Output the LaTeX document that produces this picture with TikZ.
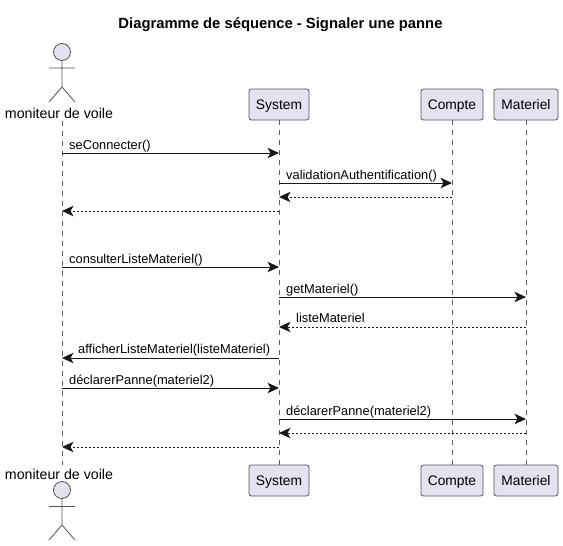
\documentclass[tikz,border=0pt]{standalone}
\usepackage{fontspec}
\setmainfont{Liberation Sans}
\usetikzlibrary{arrows.meta}
\definecolor{boxfill}{HTML}{E2E2F0}
\definecolor{boxline}{HTML}{181818}
\tikzset{
  partbox/.style={draw=boxline!75, fill=boxfill, rounded corners=2.5pt, minimum height=31pt, inner sep=0pt, text height=10pt, text depth=0pt, font=\fontsize{13.8}{15}\selectfont, line width=0.8pt},
  actorname/.style={inner sep=0pt, font=\fontsize{14.2}{16}\selectfont},
  msg/.style={draw=boxline, line width=1pt, -{Stealth[length=11.5pt,width=10.5pt,inset=3pt]}},
  ret/.style={msg, dash pattern=on 2pt off 2pt},
  life/.style={draw=boxline!70, dash pattern=on 5pt off 5pt, line width=0.6pt},
  lbl/.style={anchor=base west, inner sep=0pt, font=\fontsize{12.85}{15}\selectfont},
  stick/.style={draw=boxline!75, line width=0.8pt},
}
\begin{document}
\begin{tikzpicture}[x=1pt, y=-1pt]
        \useasboundingbox (0,0) rectangle (563,546);
        % title
        \node[font=\fontsize{14.8}{17}\selectfont\bfseries] (title) at (280.5,25) {Diagramme de séquence - Signaler une panne};
        % boxes
        \node[partbox, minimum width=60pt] (sys1) at (279,104.5) {System};
        \node[partbox, minimum width=62pt] (cpt1) at (452,104.5) {Compte};
        \node[partbox, minimum width=64pt] (mat1) at (526,104.5) {Materiel};
        \node[partbox, minimum width=60pt] (sys2) at (279,480.5) {System};
        \node[partbox, minimum width=62pt] (cpt2) at (452,480.5) {Compte};
        \node[partbox, minimum width=64pt] (mat2) at (526,480.5) {Materiel};
        % actors
        \node[actorname] (act1) at (59,113) {moniteur de voile};
        \node[actorname] (act2) at (59,474) {moniteur de voile};
        \coordinate (top1) at (62,121);
        \coordinate (top2) at (62,465);
        \draw[stick, fill=boxfill] (62,52) circle (8.5);
        \draw[stick] (62,60.5) -- (62,87) (49,68) -- (75,68) (49,102) -- (62,87) -- (75,102);
        \draw[stick, fill=boxfill] (62,490) circle (8.5);
        \draw[stick] (62,498.5) -- (62,525) (49,506.5) -- (75,506.5) (49,540) -- (62,525) -- (75,540);
        % lifelines
        \draw[life] (top1) -- (top2);
        \draw[life] (sys1) -- (sys2);
        \draw[life] (cpt1) -- (cpt2);
        \draw[life] (mat1) -- (mat2);
        % points on the lifelines
        \coordinate (a1) at (62,153);  \coordinate (s1) at (279,153);
        \coordinate (s2) at (279,183); \coordinate (c2) at (452,183);
        \coordinate (s3) at (279,197); \coordinate (c3) at (452,197);
        \coordinate (a4) at (62,211);  \coordinate (s4) at (279,211);
        \coordinate (a5) at (62,267);  \coordinate (s5) at (279,267);
        \coordinate (s6) at (279,297); \coordinate (m6) at (526,297);
        \coordinate (s7) at (279,327); \coordinate (m7) at (526,327);
        \coordinate (a8) at (62,358);  \coordinate (s8) at (279,358);
        \coordinate (a9) at (62,388);  \coordinate (s9) at (279,388);
        \coordinate (s10) at (279,419); \coordinate (m10) at (526,419);
        \coordinate (s11) at (279,433); \coordinate (m11) at (526,433);
        \coordinate (a12) at (62,447);  \coordinate (s12) at (279,447);
        % edges
        \draw[msg] (a1) -- (s1);
        \draw[msg] (s2) -- (c2);
        \draw[ret] (c3) -- (s3);
        \draw[ret] (s4) -- (a4);
        \draw[msg] (a5) -- (s5);
        \draw[msg] (s6) -- (m6);
        \draw[ret] (m7) -- (s7);
        \draw[msg] (s8) -- (a8);
        \draw[msg] (a9) -- (s9);
        \draw[msg] (s10) -- (m10);
        \draw[ret] (m11) -- (s11);
        \draw[ret] (s12) -- (a12);
        % labels
        \node[lbl] (t1) at (69,149) {seConnecter()};
        \node[lbl] (t2) at (286,179) {validationAuthentification()};
        \node[lbl] (t5) at (69,263) {consulterListeMateriel()};
        \node[lbl] (t6) at (286,293) {getMateriel()};
        \node[lbl] (t7) at (296,322) {listeMateriel};
        \node[lbl] (t8) at (78,353) {afficherListeMateriel(listeMateriel)};
        \node[lbl] (t9) at (69,384) {déclarerPanne(materiel2)};
        \node[lbl] (t10) at (286,415) {déclarerPanne(materiel2)};
\end{tikzpicture}
\end{document}
